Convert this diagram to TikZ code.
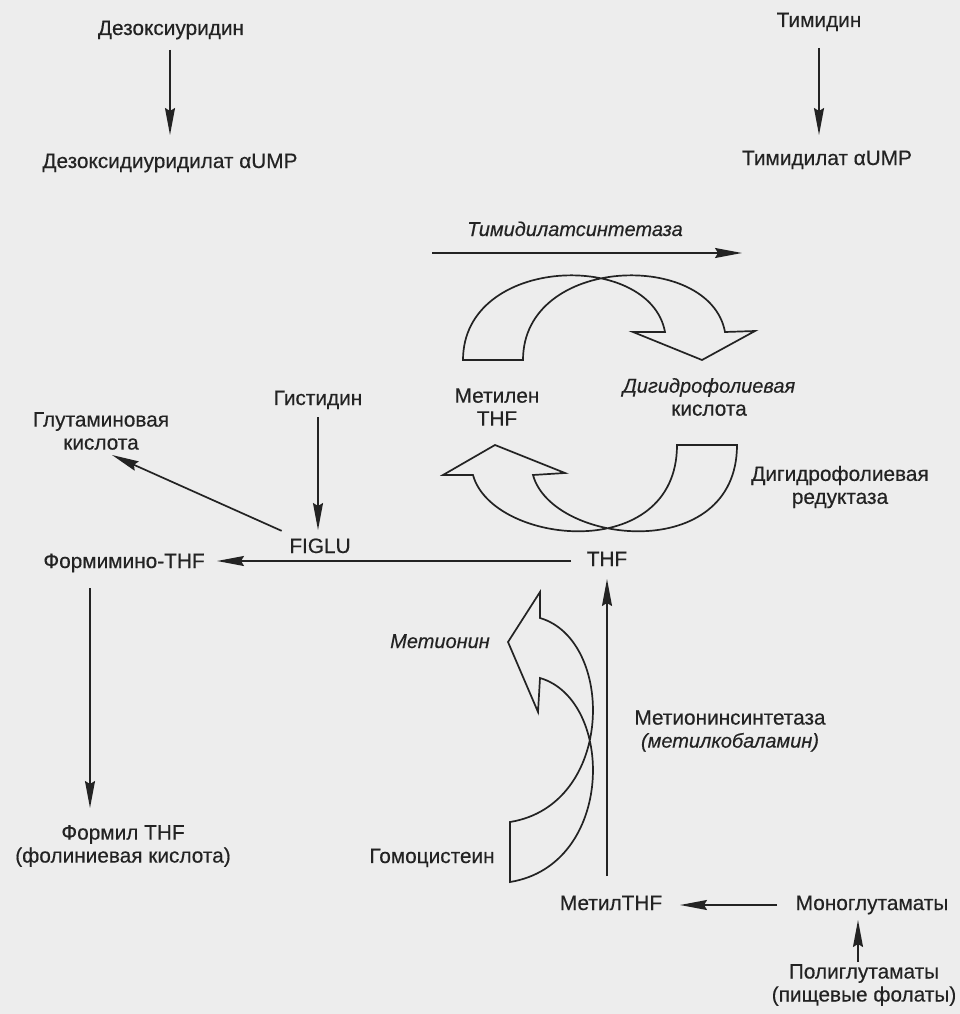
\documentclass[tikz,border=0pt]{standalone}
\usepackage{fontspec}
\setmainfont{Liberation Sans}[FakeBold=0.35]
\usetikzlibrary{arrows.meta}
\definecolor{ink}{RGB}{35,35,35}
\definecolor{paper}{RGB}{237,237,237}
\tikzset{
  lbl/.style={font=\fontsize{20.8}{23}\selectfont, text=ink, inner sep=0pt, align=center},
  one/.style={lbl, text height=14.5pt, text depth=4.5pt},
  ital/.style={font=\fontsize{20}{23}\selectfont\itshape},
  arr/.style={draw=ink, line width=1.7pt, -{Stealth[length=27pt,width=10pt,inset=3pt]}},
  band/.style={draw=ink, line width=1.7pt, line join=miter},
}
\begin{document}
\begin{tikzpicture}[x=1pt,y=-1pt]
\fill[paper] (0,0) rectangle (960,1014);
\useasboundingbox (0,0) rectangle (960,1014);

% labels
\node[one] (dUrd) at (171,30) {Дезоксиуридин};
\node[one] (dUMP) at (170,163) {Дезоксидиуридилат αUMP};
\node[one] (Thd) at (819,22) {Тимидин};
\node[one] (TMP) at (827,160) {Тимидилат αUMP};
\node[one, ital] (TSl) at (575,231) {Тимидилатсинтетаза};
\node[lbl] (MeTHF) at (497,407) {Метилен\\THF};
\node[lbl] (DHF) at (709,397) {{\fontsize{20}{23}\selectfont\itshape Дигидрофолиевая}\\кислота};
\node[lbl] (DHFR) at (840,487) {Дигидрофолиевая\\редуктаза};
\node[lbl] (Glu) at (101,431) {Глутаминовая\\кислота};
\node[one] (His) at (318,400) {Гистидин};
\node[one] (FIG) at (320,548) {FIGLU};
\node[one] (Form) at (124,563) {Формимино-THF};
\node[one] (THF) at (607,561) {THF};
\node[one, ital] (Met) at (440,643) {Метионин};
\node[one] (Hcy) at (432,858) {Гомоцистеин};
\node[lbl] (MS) at (730,731) {Метионинсинтетаза\\{\fontsize{20}{23}\selectfont\itshape(метилкобаламин)}};
\node[lbl] (Formyl) at (123,846) {Формил THF\\(фолиниевая кислота)};
\node[one] (MTHF) at (611,905) {МетилTHF};
\node[one] (Mono) at (872,905) {Моноглутаматы};
\node[lbl] (Poly) at (864,985) {Полиглутаматы\\(пищевые фолаты)};

% free ends
\coordinate (ts1) at (432,253);
\coordinate (ts2) at (742,253);
\coordinate (gluTip) at (112,455);
\coordinate (fv1) at (90,588);
\coordinate (fv2) at (90,808);
\coordinate (pv1) at (858,962);
\coordinate (pv2) at (858,920);

% straight arrows
\draw[arr, shorten <=20pt, shorten >=28pt] (dUrd.center -| dUMP.center) -- (dUMP.center);
\draw[arr, shorten <=26pt, shorten >=25pt] (Thd.center) -- (Thd.center |- TMP.center);
\draw[arr] (ts1) -- (ts2);
\draw[arr, shorten <=17pt, shorten >=18pt] (His.center) -- (His.center |- FIG.center);
\draw[arr, shorten <=42pt] (FIG.center) -- (gluTip);
\draw[arr, shorten <=36pt, shorten >=93pt] (THF.center) -- (THF.center -| Form.center);
\draw[arr] (fv1) -- (fv2);
\draw[arr, shorten <=29pt, shorten >=18pt] (THF.center |- MTHF.center) -- (THF.center);
\draw[arr, shorten <=95pt, shorten >=69pt] (Mono.center) -- (MTHF.center);
\draw[arr] (pv1) -- (pv2);

% curved block arrows
% thymidylate synthase: methylene THF -> dihydrofolic acid
\draw[band] (463,360) .. controls (463,255) and (650,250) .. (665,332)
  -- (633,332) -- (702,360) -- (755,331) -- (725,332)
  .. controls (710,250) and (523,255) .. (523,360) -- cycle;
% dihydrofolate reductase: dihydrofolic acid -> methylene THF
\draw[band] (677,445) -- (737,445)
  .. controls (737,565) and (552,545) .. (533,475)
  -- (565,473) -- (495,445) -- (443,475) -- (473,475)
  .. controls (492,545) and (677,565) .. (677,445) -- cycle;
% methionine synthase: homocysteine -> methionine
\draw[band] (510,822) -- (510,882)
  .. controls (615,865) and (615,700) .. (540,678)
  -- (538,712) -- (508,642) -- (540,592) -- (540,618)
  .. controls (615,640) and (615,805) .. (510,822) -- cycle;
\end{tikzpicture}
\end{document}
